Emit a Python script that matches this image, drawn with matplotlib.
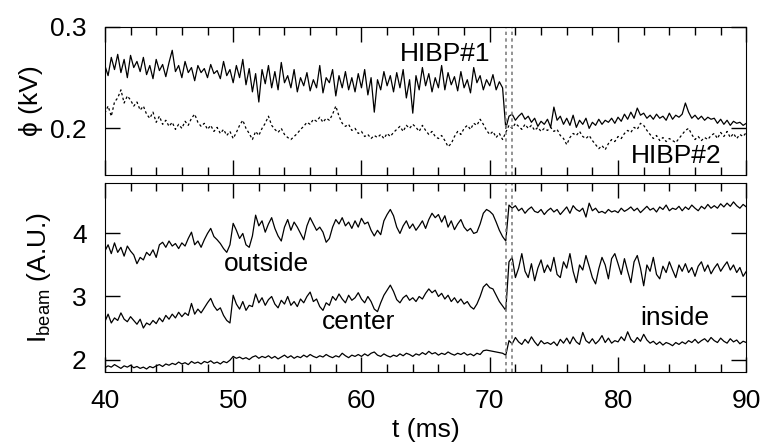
import numpy as np
import matplotlib
matplotlib.use("Agg")
import matplotlib.pyplot as plt
from matplotlib.ticker import MultipleLocator

# Fuente tipo Helvetica, con DejaVu de respaldo para el simbolo phi
plt.rcParams['font.family'] = ['Liberation Sans', 'DejaVu Sans']
plt.rcParams['mathtext.fontset'] = 'custom'
plt.rcParams['mathtext.rm'] = 'Liberation Sans'

# Potencial (kV) medido por cada HIBP, un valor cada 0.25 ms de 40 a 90 ms
phi_hibp1 = [
    0.262, 0.252, 0.270, 0.258, 0.273, 0.255, 0.268, 0.250, 0.272, 0.260,
    0.266, 0.256, 0.270, 0.253, 0.262, 0.249, 0.268, 0.257, 0.263, 0.251,
    0.265, 0.277, 0.256, 0.262, 0.250, 0.266, 0.255, 0.260, 0.247, 0.262,
    0.255, 0.259, 0.250, 0.263, 0.254, 0.257, 0.249, 0.266, 0.252, 0.258,
    0.245, 0.262, 0.250, 0.268, 0.243, 0.259, 0.236, 0.254, 0.226, 0.258,
    0.244, 0.262, 0.240, 0.256, 0.238, 0.265, 0.245, 0.252, 0.240, 0.258,
    0.236, 0.250, 0.242, 0.255, 0.237, 0.248, 0.240, 0.262, 0.235, 0.250,
    0.245, 0.258, 0.232, 0.252, 0.240, 0.256, 0.238, 0.250, 0.236, 0.254,
    0.240, 0.258, 0.233, 0.250, 0.216, 0.248, 0.238, 0.256, 0.242, 0.252,
    0.236, 0.255, 0.240, 0.258, 0.230, 0.248, 0.215, 0.252, 0.238, 0.260,
    0.242, 0.254, 0.236, 0.250, 0.240, 0.262, 0.238, 0.255, 0.243, 0.251,
    0.237, 0.256, 0.240, 0.248, 0.235, 0.260, 0.245, 0.252, 0.238, 0.248,
    0.242, 0.253, 0.238, 0.246, 0.240, 0.200, 0.212, 0.214, 0.208, 0.212,
    0.215, 0.209, 0.212, 0.206, 0.210, 0.202, 0.207, 0.204, 0.209, 0.201,
    0.221, 0.208, 0.212, 0.204, 0.210, 0.203, 0.213, 0.201, 0.208, 0.204,
    0.210, 0.200, 0.206, 0.203, 0.209, 0.204, 0.208, 0.206, 0.210, 0.205,
    0.211, 0.207, 0.214, 0.209, 0.216, 0.210, 0.220, 0.213, 0.215, 0.210,
    0.213, 0.209, 0.214, 0.210, 0.212, 0.208, 0.215, 0.209, 0.213, 0.211,
    0.214, 0.225, 0.216, 0.210, 0.213, 0.209, 0.212, 0.208, 0.211, 0.209,
    0.210, 0.205, 0.209, 0.204, 0.208, 0.203, 0.207, 0.205, 0.206, 0.203,
    0.205,
]

phi_hibp2 = [
    0.215, 0.222, 0.212, 0.226, 0.230, 0.238, 0.225, 0.232, 0.228, 0.222,
    0.226, 0.218, 0.222, 0.214, 0.210, 0.216, 0.206, 0.212, 0.204, 0.208,
    0.202, 0.206, 0.199, 0.204, 0.200, 0.207, 0.203, 0.210, 0.214, 0.206,
    0.202, 0.205, 0.199, 0.203, 0.197, 0.201, 0.195, 0.199, 0.193, 0.197,
    0.190, 0.196, 0.203, 0.208, 0.200, 0.195, 0.189, 0.197, 0.193, 0.200,
    0.205, 0.212, 0.203, 0.199, 0.196, 0.200, 0.194, 0.191, 0.189, 0.192,
    0.195, 0.199, 0.202, 0.206, 0.204, 0.209, 0.207, 0.211, 0.206, 0.210,
    0.208, 0.214, 0.222, 0.212, 0.205, 0.202, 0.204, 0.198, 0.200, 0.195,
    0.197, 0.192, 0.194, 0.190, 0.193, 0.191, 0.194, 0.190, 0.195, 0.192,
    0.196, 0.199, 0.202, 0.197, 0.203, 0.200, 0.204, 0.201, 0.197, 0.203,
    0.198, 0.194, 0.197, 0.192, 0.190, 0.193, 0.188, 0.182, 0.185, 0.192,
    0.197, 0.194, 0.200, 0.203, 0.199, 0.205, 0.203, 0.209, 0.204, 0.198,
    0.194, 0.197, 0.191, 0.195, 0.189, 0.196, 0.203, 0.200, 0.205, 0.202,
    0.199, 0.204, 0.200, 0.203, 0.198, 0.201, 0.197, 0.200, 0.198, 0.201,
    0.197, 0.199, 0.193, 0.190, 0.184, 0.191, 0.195, 0.193, 0.197, 0.192,
    0.190, 0.193, 0.188, 0.184, 0.180, 0.183, 0.179, 0.185, 0.189, 0.187,
    0.192, 0.190, 0.195, 0.198, 0.196, 0.201, 0.199, 0.205, 0.203, 0.198,
    0.194, 0.190, 0.193, 0.188, 0.191, 0.187, 0.190, 0.188, 0.186, 0.190,
    0.194, 0.198, 0.200, 0.194, 0.189, 0.192, 0.188, 0.191, 0.189, 0.193,
    0.195, 0.190, 0.196, 0.192, 0.197, 0.191, 0.195, 0.190, 0.194, 0.192,
    0.196,
]

# Corriente del haz (A.U.) en los tres canales
ibeam_outside = [
    3.72, 3.82, 3.68, 3.85, 3.70, 3.78, 3.64, 3.80, 3.72, 3.66,
    3.52, 3.62, 3.58, 3.70, 3.65, 3.74, 3.62, 3.82, 3.86, 3.78,
    3.88, 3.80, 3.84, 3.76, 3.85, 3.80, 3.92, 4.02, 3.82, 3.88,
    3.78, 3.90, 4.00, 4.08, 3.95, 3.90, 3.84, 3.76, 3.70, 3.82,
    4.16, 4.05, 3.92, 4.00, 3.82, 3.78, 3.96, 4.29, 4.12, 4.20,
    4.02, 4.15, 4.25, 4.08, 3.96, 3.88, 4.10, 4.22, 4.05, 4.18,
    4.10, 4.00, 3.90, 4.12, 4.25, 4.15, 4.05, 4.10, 4.02, 3.86,
    3.92, 4.10, 4.22, 4.15, 4.25, 4.12, 4.18, 4.08, 4.20, 4.10,
    4.24, 4.15, 4.18, 4.05, 3.96, 4.05, 3.98, 4.20, 4.30, 4.38,
    4.28, 4.10, 4.00, 4.12, 4.20, 4.08, 4.15, 4.05, 4.12, 4.20,
    4.08, 4.22, 4.32, 4.25, 4.30, 4.18, 4.28, 4.10, 4.20, 4.06,
    4.15, 4.22, 4.10, 4.04, 4.08, 4.00, 4.02, 4.15, 4.32, 4.38,
    4.35, 4.30, 4.18, 4.05, 3.95, 3.88, 4.45, 4.40, 4.44, 4.36,
    4.40, 4.32, 4.38, 4.42, 4.35, 4.33, 4.38, 4.30, 4.36, 4.40,
    4.34, 4.38, 4.30, 4.36, 4.42, 4.32, 4.44, 4.38, 4.35, 4.40,
    4.26, 4.48, 4.36, 4.40, 4.33, 4.35, 4.32, 4.38, 4.34, 4.36,
    4.33, 4.40, 4.35, 4.38, 4.42, 4.36, 4.40, 4.33, 4.38, 4.43,
    4.37, 4.40, 4.34, 4.42, 4.38, 4.45, 4.36, 4.40, 4.38, 4.43,
    4.36, 4.42, 4.38, 4.45, 4.40, 4.36, 4.43, 4.39, 4.46, 4.40,
    4.44, 4.40, 4.47, 4.42, 4.48, 4.43, 4.50, 4.44, 4.40, 4.46,
    4.42,
]

ibeam_center = [
    2.60, 2.72, 2.58, 2.66, 2.62, 2.74, 2.64, 2.60, 2.68, 2.62,
    2.56, 2.64, 2.50, 2.58, 2.55, 2.62, 2.57, 2.66, 2.60, 2.70,
    2.64, 2.72, 2.66, 2.75, 2.68, 2.74, 2.70, 2.89, 2.72, 2.80,
    2.74, 2.82, 2.90, 2.97, 2.85, 2.78, 2.82, 2.70, 2.62, 2.58,
    3.02, 2.88, 2.80, 2.92, 2.78, 2.86, 2.84, 3.04, 2.90, 2.98,
    2.86, 2.95, 3.00, 2.88, 2.82, 2.94, 2.88, 3.00, 2.86, 2.92,
    2.84, 2.96, 2.90, 3.00, 3.07, 2.92, 2.96, 2.84, 2.78, 2.90,
    2.86, 3.00, 2.94, 3.04, 2.96, 2.90, 3.02, 2.94, 2.98, 3.06,
    2.96, 2.90, 3.00, 2.92, 2.80, 2.76, 2.90, 3.02, 3.10, 3.18,
    3.08, 2.95, 2.90, 2.98, 3.02, 2.94, 2.98, 2.92, 3.00, 2.96,
    3.05, 3.12, 3.06, 3.10, 3.00, 3.05, 2.96, 3.02, 2.92, 2.98,
    2.90, 2.96, 2.88, 2.92, 2.84, 2.80, 2.88, 3.00, 3.15, 3.20,
    3.14, 3.12, 3.02, 2.92, 2.85, 2.78, 3.55, 3.62, 3.30, 3.45,
    3.68, 3.40, 3.30, 3.52, 3.25, 3.45, 3.58, 3.38, 3.50, 3.40,
    3.62, 3.35, 3.30, 3.55, 3.45, 3.68, 3.40, 3.22, 3.50, 3.42,
    3.65, 3.48, 3.30, 3.20, 3.44, 3.62, 3.50, 3.28, 3.60, 3.68,
    3.52, 3.35, 3.60, 3.40, 3.22, 3.55, 3.65, 3.45, 3.17, 3.50,
    3.40, 3.62, 3.35, 3.28, 3.48, 3.38, 3.55, 3.42, 3.30, 3.50,
    3.40, 3.52, 3.38, 3.46, 3.32, 3.48, 3.55, 3.40, 3.50, 3.36,
    3.45, 3.52, 3.40, 3.48, 3.55, 3.42, 3.50, 3.38, 3.46, 3.32,
    3.40,
]

ibeam_inside = [
    1.87, 1.90, 1.88, 1.92, 1.89, 1.86, 1.90, 1.88, 1.91, 1.87,
    1.89, 1.86, 1.88, 1.85, 1.89, 1.87, 1.90, 1.92, 1.89, 1.93,
    1.91, 1.94, 1.92, 1.96, 1.93, 1.95, 1.92, 1.97, 1.94, 1.96,
    1.93, 1.97, 1.95, 1.98, 1.94, 1.96, 1.93, 1.97, 1.95, 1.99,
    2.05, 2.02, 2.04, 2.01, 2.03, 2.00, 2.04, 2.06, 2.02, 2.05,
    2.03, 2.06, 2.02, 2.05, 2.01, 2.04, 2.07, 2.03, 2.06, 2.02,
    2.05, 2.03, 2.07, 2.04, 2.08, 2.05, 2.03, 2.06, 2.04, 2.08,
    2.05, 2.03, 2.06, 2.04, 2.10, 2.06, 2.03, 2.07, 2.05, 2.08,
    2.05, 2.09, 2.06, 2.10, 2.12, 2.07, 2.05, 2.09, 2.06, 2.04,
    2.07, 2.05, 2.09, 2.06, 2.10, 2.08, 2.05, 2.09, 2.07, 2.11,
    2.08, 2.13, 2.09, 2.11, 2.07, 2.10, 2.08, 2.12, 2.09, 2.07,
    2.10, 2.08, 2.11, 2.07, 2.09, 2.06, 2.10, 2.08, 2.14, 2.15,
    2.14, 2.13, 2.12, 2.11, 2.10, 2.07, 2.30, 2.25, 2.35, 2.28,
    2.24, 2.32, 2.26, 2.36, 2.28, 2.22, 2.30, 2.25, 2.27, 2.24,
    2.28, 2.22, 2.32, 2.26, 2.34, 2.25, 2.36, 2.28, 2.24, 2.43,
    2.30, 2.26, 2.33, 2.25, 2.30, 2.38, 2.27, 2.34, 2.26, 2.30,
    2.28, 2.36, 2.30, 2.44, 2.32, 2.27, 2.35, 2.29, 2.40, 2.31,
    2.26, 2.29, 2.24, 2.28, 2.23, 2.27, 2.25, 2.22, 2.27, 2.24,
    2.28, 2.25, 2.30, 2.27, 2.32, 2.26, 2.30, 2.33, 2.28, 2.35,
    2.30, 2.27, 2.34, 2.29, 2.26, 2.33, 2.28, 2.31, 2.25, 2.29,
    2.27,
]

# Instantes de la transicion (lineas punteadas grises)
t_transition = [71.3, 71.7]

t = np.linspace(40, 90, len(phi_hibp1))

fig = plt.figure(figsize=(7.6, 4.42), dpi=100)
ax1 = fig.add_axes([0.138, 0.604, 0.844, 0.335])
ax2 = fig.add_axes([0.138, 0.158, 0.844, 0.428])

# Panel superior: potencial
ax1.plot(t, phi_hibp1, color='black', lw=0.9)
ax1.plot(t, phi_hibp2, color='black', lw=0.9, linestyle=(0, (2, 2)))
ax1.set_ylim(0.154, 0.3)
ax1.yaxis.set_major_locator(MultipleLocator(0.1))
ax1.set_ylabel('ϕ (kV)', fontsize=19, labelpad=5)
ax1.text(66.5, 0.2734, 'HIBP#1', fontsize=19, ha='center', va='center')
ax1.text(84.55, 0.173, 'HIBP#2', fontsize=19, ha='center', va='center')
ax1.tick_params(labelbottom=False)

# Panel inferior: corriente del haz
ax2.plot(t, ibeam_outside, color='black', lw=0.9)
ax2.plot(t, ibeam_center, color='black', lw=0.9)
ax2.plot(t, ibeam_inside, color='black', lw=0.9)
ax2.set_ylim(1.80, 4.80)
ax2.yaxis.set_major_locator(MultipleLocator(1))
ax2.set_ylabel(r'$\mathregular{I_{beam}}$ (A.U.)', fontsize=19, labelpad=14)
ax2.set_xlabel('t (ms)', fontsize=19, labelpad=4)
ax2.text(52.6, 3.51, 'outside', fontsize=19, ha='center', va='center')
ax2.text(59.8, 2.60, 'center', fontsize=19, ha='center', va='center')
ax2.text(84.4, 2.66, 'inside', fontsize=19, ha='center', va='center')

for ax in (ax1, ax2):
    ax.set_xlim(40, 90)
    ax.xaxis.set_major_locator(MultipleLocator(10))
    ax.xaxis.set_minor_locator(MultipleLocator(2))
    ax.tick_params(which='both', direction='in', top=True, right=True, width=1)
    ax.tick_params(which='major', length=11, labelsize=19)
    ax.tick_params(which='minor', length=6)
    ax.tick_params(axis='y', pad=13)
    ax.tick_params(axis='x', pad=12)
    for tt in t_transition:
        ax.axvline(tt, color='gray', lw=1.2, linestyle=(0, (2, 2)))

fig.savefig('out.png', dpi=100)
